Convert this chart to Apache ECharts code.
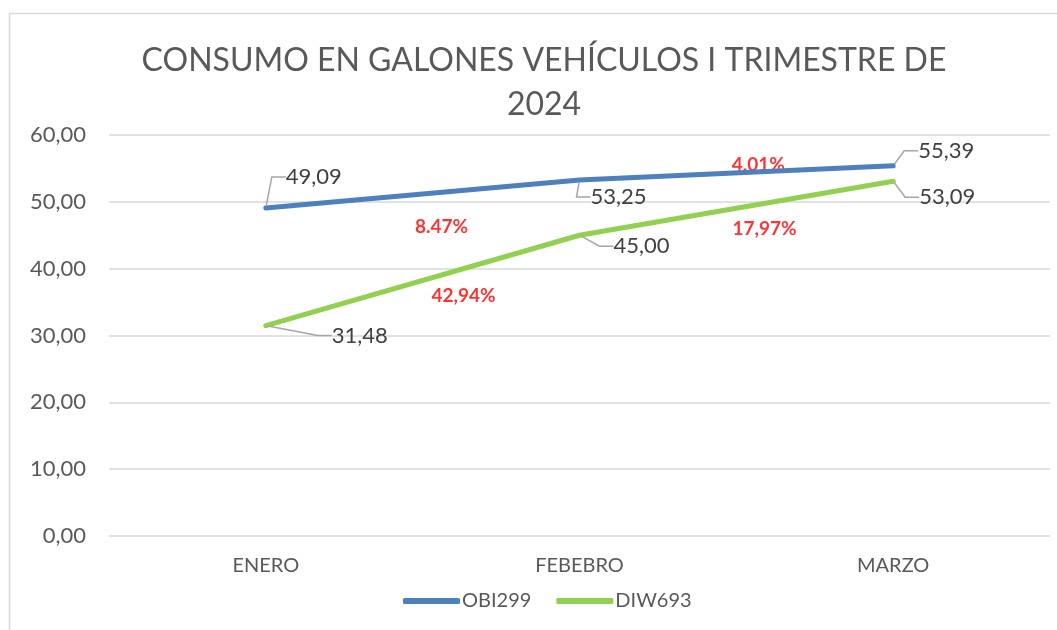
<!DOCTYPE html>
<html>
<head>
<meta charset="utf-8">
<script src="https://cdn.jsdelivr.net/npm/echarts@6/dist/echarts.min.js"></script>
<style>
  html, body { margin: 0; padding: 0; background: #fff; }
  #main { width: 1057px; height: 630px; }
</style>
</head>
<body>
<div id="main"></div>
<script>
var months = ['ENERO', 'FEBEBRO', 'MARZO'];
var obi299 = [49.09, 53.25, 55.39];
var diw693 = [31.48, 45.00, 53.09];
// red percentage notes: [x position in category index units, y value, text]
var notes = [
  [0.56, 46.3, '8.47%'],
  [0.63, 35.9, '42,94%'],
  [1.57, 55.5, '4,01%'],
  [1.59, 46.0, '17,97%']
];
// label offsets (px) for each point
var obiOffsets = [[48, -31], [39, 17], [53, -15]];
var diwOffsets = [[94, 10], [62, 11], [54, 16]];

var chart = echarts.init(document.getElementById('main'));
var FONT = 'Lato, "Open Sans", sans-serif';

function fmt(v) {
  return v.toFixed(2).replace('.', ',');
}

function labelLayoutFor(offsets) {
  return function (params) {
    var o = offsets[params.dataIndex];
    return { dx: o[0], dy: o[1] };
  };
}

var option = {
  backgroundColor: '#ffffff',
  textStyle: { fontFamily: FONT },
  title: {
    text: 'CONSUMO EN GALONES VEHÍCULOS I TRIMESTRE DE\n2024',
    left: 539,
    textAlign: 'center',
    top: 34,
    textStyle: {
      fontFamily: FONT,
      fontSize: 32,
      fontWeight: 'normal',
      color: '#595959',
      lineHeight: 44
    }
  },
  legend: {
    bottom: 14,
    left: 398,
    itemWidth: 57,
    itemHeight: 6,
    itemGap: 25,
    icon: 'roundRect',
    textStyle: { fontFamily: FONT, fontSize: 20, color: '#595959', padding: [0, 0, 0, -3] },
    data: ['OBI299', 'DIW693']
  },
  grid: { left: 109, right: 7, top: 135, bottom: 94 },
  xAxis: [{
    type: 'category',
    data: months,
    axisLine: { show: false },
    axisTick: { show: false },
    axisLabel: { fontFamily: FONT, fontSize: 20, color: '#595959', margin: 20 }
  }, {
    type: 'value',
    min: -0.5,
    max: 2.5,
    show: false
  }],
  yAxis: {
    type: 'value',
    min: 0,
    max: 60,
    interval: 10,
    axisLine: { show: false },
    axisTick: { show: false },
    splitLine: { lineStyle: { color: '#d9d9d9', width: 1.5 } },
    axisLabel: {
      fontFamily: FONT, fontSize: 22, color: '#595959', margin: 23,
      formatter: function (v) { return fmt(v); }
    }
  },
  series: [{
    name: 'OBI299',
    type: 'line',
    data: obi299,
    color: '#4e80bd',
    lineStyle: { width: 5, color: '#4e80bd', cap: 'round' },
    symbol: 'circle',
    symbolSize: 4,
    itemStyle: { color: '#4e80bd' },
    label: {
      show: true, position: 'inside', fontFamily: FONT, fontSize: 22, color: '#404040',
      formatter: function (p) { return fmt(p.value); }
    },
    labelLayout: labelLayoutFor(obiOffsets),
    labelLine: { show: true, length2: 14, lineStyle: { color: '#a6a6a6', width: 1.5 } }
  }, {
    name: 'DIW693',
    type: 'line',
    data: diw693,
    color: '#92d050',
    lineStyle: { width: 5, color: '#92d050', cap: 'round' },
    symbol: 'circle',
    symbolSize: 4,
    itemStyle: { color: '#92d050' },
    label: {
      show: true, position: 'inside', fontFamily: FONT, fontSize: 22, color: '#404040',
      formatter: function (p) { return fmt(p.value); }
    },
    labelLayout: labelLayoutFor(diwOffsets),
    labelLine: { show: true, length2: 14, lineStyle: { color: '#a6a6a6', width: 1.5 } }
  }, {
    name: 'notes',
    type: 'scatter',
    xAxisIndex: 1,
    symbolSize: 0,
    silent: true,
    data: notes.map(function (n) { return { value: [n[0], n[1]], name: n[2] }; }),
    label: {
      show: true,
      position: 'inside',
      formatter: function (p) { return p.name; },
      fontFamily: FONT,
      fontSize: 19,
      fontWeight: 'bold',
      color: '#ff0000'
    }
  }],
  graphic: [{
    type: 'polyline',
    shape: { points: [[9.5, 640], [9.5, 13.5], [1070, 13.5]] },
    style: { stroke: '#d9d9d9', lineWidth: 1.5, fill: null },
    silent: true
  }]
};

chart.setOption(option);
</script>
</body>
</html>
